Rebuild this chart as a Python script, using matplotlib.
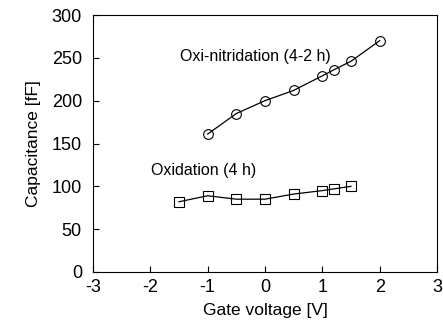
import matplotlib
matplotlib.use("Agg")
import matplotlib.pyplot as plt

plt.rcParams['font.family'] = ['Liberation Sans', 'DejaVu Sans']
plt.rcParams['axes.unicode_minus'] = False

v_oxn = [-1, -0.5, 0, 0.5, 1, 1.2, 1.5, 2]
c_oxn = [161, 185, 200, 212, 229, 236, 246, 270]
v_ox = [-1.5, -1, -0.5, 0, 0.5, 1, 1.2, 1.5]
c_ox = [82, 89, 85, 85, 91, 95, 97, 100]

fig = plt.figure(figsize=(4.43, 3.33), dpi=100)
ax = fig.add_axes([93/443, 1-272/333, (437-93)/443, (272-15)/333])
ax.plot(v_oxn, c_oxn, '-', color='black', lw=0.9, marker='o', ms=7,
        mfc='none', mec='black', mew=0.8)
ax.plot(v_ox, c_ox, '-', color='black', lw=0.9, marker='s', ms=7,
        mfc='none', mec='black', mew=0.8)
ax.text(-1.48, 251, 'Oxi-nitridation (4-2 h)', fontsize=11.5, va='center', ha='left')
ax.text(-1.99, 119, 'Oxidation (4 h)', fontsize=11.5, va='center', ha='left')
ax.set_xlim(-3, 3)
ax.set_ylim(0, 300)
ax.set_xticks([-3, -2, -1, 0, 1, 2, 3])
ax.set_yticks([0, 50, 100, 150, 200, 250, 300])
ax.tick_params(direction='in', labelsize=13, length=4, width=0.8)
ax.tick_params(axis='x', pad=5)
ax.tick_params(axis='y', pad=8)
ax.set_xlabel('Gate voltage [V]', fontsize=12.5, labelpad=5)
ax.set_ylabel('Capacitance [fF]', fontsize=12.5, labelpad=8)
for s in ax.spines.values():
    s.set_linewidth(0.8)
fig.savefig('out.png', dpi=100)
